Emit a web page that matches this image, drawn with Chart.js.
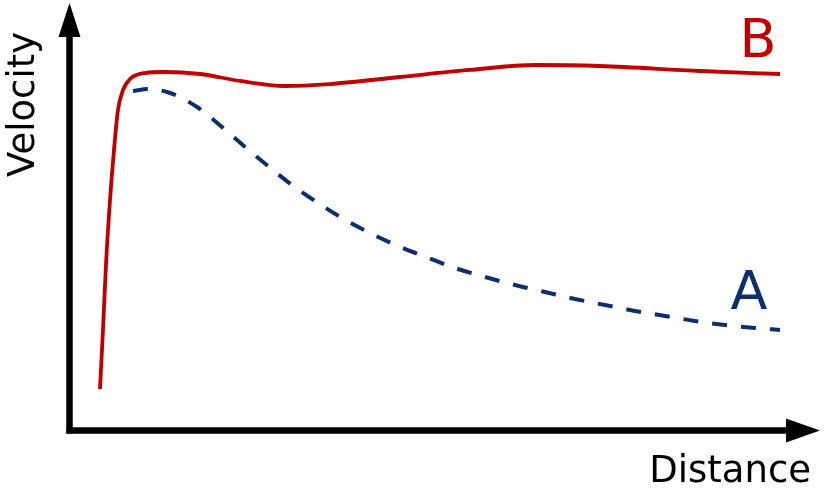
<!DOCTYPE html>
<html>
<head>
<meta charset="utf-8">
<script src="https://cdn.jsdelivr.net/npm/chart.js@4.4.1/dist/chart.umd.min.js"></script>
<style>
html,body{margin:0;padding:0;background:#fff;}
#wrap{width:825px;height:497px;position:relative;}
</style>
</head>
<body>
<div id="wrap"><canvas id="c"></canvas></div>
<script>
// Curve B (solid red) — distance / velocity values
const distanceB = [4.13,4.53,4.93,5.47,6.0,6.53,7.2,8.13,10.13,12.8,17.47,22.8,28.8,34.8,44.13,53.47,62.13,70.8,84.13,94.8];
const velocityB = [9.8,23.6,38.8,54.0,65.65,75.0,79.67,82.24,83.64,83.88,83.41,81.78,80.61,81.07,82.71,84.35,85.51,85.28,84.11,83.41];
// Curve A (dashed blue)
const distanceA = [8.53,10.53,13.47,17.07,20.4,23.47,26.53,29.73,32.8,36.4,40.13,43.87,47.6,51.47,55.47,59.47,63.47,67.47,71.47,75.47,79.47,83.47,87.47,91.47,94.8];
const velocityA = [79.44,79.91,78.97,75.70,71.03,66.36,61.92,57.48,53.74,49.77,46.26,43.22,40.65,38.08,35.98,34.11,32.48,30.84,29.44,28.04,26.87,25.70,24.77,24.07,23.6];
const seriesNames = ['B','A'];
const axisTitles = {x:'Distance', y:'Velocity'};

const RED = '#c00000';
const BLUE = '#0c2f6c';

function pts(xs, ys){ return xs.map((x,i)=>({x:x, y:ys[i]})); }

const axesPlugin = {
  id:'axesArrows',
  afterDatasetsDraw(chart){
    const ctx = chart.ctx;
    const a = chart.chartArea;
    const xs = chart.scales.x, ys = chart.scales.y;
    const x0 = xs.getPixelForValue(0) + 0.5;
    const y0 = ys.getPixelForValue(0) - 0.5;
    ctx.save();
    ctx.fillStyle = '#000';
    ctx.strokeStyle = '#000';
    ctx.lineWidth = 6.5;
    ctx.lineCap = 'butt';
    // y axis
    ctx.beginPath();
    ctx.moveTo(x0, y0 + 3);
    ctx.lineTo(x0, a.top + 30);
    ctx.stroke();
    ctx.beginPath();
    ctx.moveTo(x0, a.top);
    ctx.lineTo(x0 - 11, a.top + 34);
    ctx.lineTo(x0 + 11, a.top + 34);
    ctx.closePath();
    ctx.fill();
    // x axis
    const xr = xs.getPixelForValue(100) + 1;
    ctx.beginPath();
    ctx.moveTo(x0 - 3, y0);
    ctx.lineTo(xr - 30, y0);
    ctx.stroke();
    ctx.beginPath();
    ctx.moveTo(xr, y0);
    ctx.lineTo(xr - 34, y0 - 12);
    ctx.lineTo(xr - 34, y0 + 12);
    ctx.closePath();
    ctx.fill();
    // axis titles
    ctx.font = '37px "DejaVu Sans"';
    ctx.textBaseline = 'alphabetic';
    ctx.textAlign = 'right';
    ctx.fillText(axisTitles.x, 811, 482);
    ctx.save();
    ctx.translate(34, 177);
    ctx.rotate(-Math.PI/2);
    ctx.textAlign = 'left';
    ctx.fillText(axisTitles.y, 0, 0);
    ctx.restore();
    // series labels
    ctx.font = '54px "DejaVu Sans"';
    ctx.textAlign = 'center';
    ctx.fillStyle = RED;
    ctx.fillText(seriesNames[0], 758, 57);
    ctx.fillStyle = BLUE;
    ctx.fillText(seriesNames[1], 749, 309);
    ctx.restore();
  }
};

new Chart(document.getElementById('c'), {
  type:'line',
  data:{
    datasets:[
      {label:seriesNames[0], data:pts(distanceB, velocityB), borderColor:RED, borderWidth:3.8,
       pointRadius:0, cubicInterpolationMode:'monotone', fill:false},
      {label:seriesNames[1], data:pts(distanceA, velocityA), borderColor:BLUE, borderWidth:4,
       borderDash:[15,14], pointRadius:0, cubicInterpolationMode:'monotone', fill:false}
    ]
  },
  options:{
    responsive:true, maintainAspectRatio:false, animation:false,
    devicePixelRatio:1,
    layout:{padding:{left:69, right:6, top:3, bottom:66}},
    plugins:{legend:{display:false}, tooltip:{enabled:false}},
    scales:{
      x:{type:'linear', min:0, max:100, display:false},
      y:{type:'linear', min:0, max:100, display:false}
    }
  },
  plugins:[axesPlugin]
});
</script>
</body>
</html>
